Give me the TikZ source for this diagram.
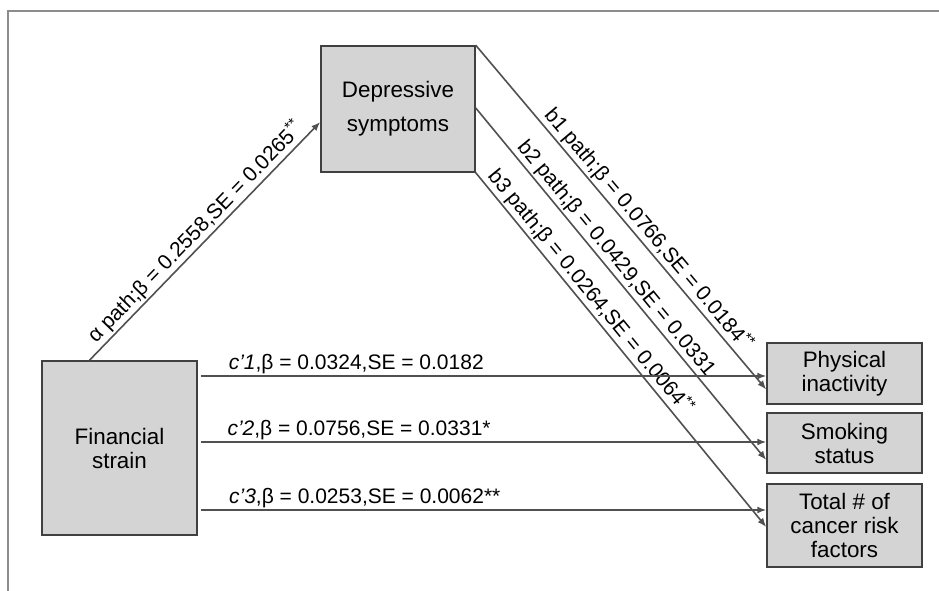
\documentclass[tikz,border=0pt]{standalone}
\usepackage{fontspec}
\setmainfont{Liberation Sans}
\usetikzlibrary{arrows.meta}
\definecolor{boxfill}{HTML}{D4D4D4}
\definecolor{boxline}{HTML}{404040}
\definecolor{linkline}{HTML}{505050}
\definecolor{framegray}{HTML}{8C8C8C}
\tikzset{
    varbox/.style={draw=boxline, line width=1.5pt, fill=boxfill, align=center, inner sep=0pt,
        minimum width=155pt, font=\fontsize{22.4}{24}\selectfont},
    link/.style={draw=linkline, line width=1.6pt, -{Latex[length=9pt,width=7pt]}},
    coef/.style={font=\fontsize{21}{24}\selectfont, inner sep=1.5pt}
}
\begin{document}
\begin{tikzpicture}[x=1pt,y=-1pt]
    \useasboundingbox (0,0) rectangle (939,591);
    \draw[framegray, line width=2pt] (939,11) -- (8,11) -- (8,591);
    % variables
    \node[varbox, minimum width=154pt, minimum height=126pt, font=\fontsize{22.4}{34}\selectfont] (dep) at (398,109) {Depressive\\symptoms};
    \node[varbox, minimum height=174pt] (fin) at (119.5,448) {Financial\\strain};
    \node[varbox, minimum height=61pt] (phys) at (844.5,373.5) {Physical\\inactivity};
    \node[varbox, minimum height=60pt] (smok) at (844.5,443) {Smoking\\status};
    \node[varbox, minimum height=83pt] (total) at (844.5,525.5) {Total \# of\\cancer risk\\factors};
    % a path
    \draw[link] ([xshift=-30pt]fin.north) -- node[coef, midway, sloped, above] {α path;β = 0.2558,SE = 0.0265\textsuperscript{**}} ([yshift=-13pt]dep.west);
    % b paths
    \draw[link] (dep.north east) -- node[coef, pos=0.56, sloped, above] {b1 path;β = 0.0766,SE = 0.0184\textsuperscript{**}} ([yshift=-16pt]phys.west);
    \draw[link] ([yshift=1pt]dep.east) -- node[coef, pos=0.45, sloped, above] {b2 path;β = 0.0429,SE = 0.0331} ([yshift=-17pt]smok.west);
    \draw[link] (dep.south east) -- node[coef, pos=0.36, sloped, above] {b3 path;β = 0.0264,SE = 0.0064\textsuperscript{**}} ([yshift=-1.5pt]total.west);
    % c' paths
    \draw[link] ([xshift=3pt,yshift=72pt]fin.east) -- node[coef, pos=0.275, above] {\textit{c'1},β = 0.0324,SE = 0.0182} ([yshift=-2.5pt]phys.west);
    \draw[link] ([xshift=3pt,yshift=6pt]fin.east) -- node[coef, pos=0.28, above] {\textit{c'2},β = 0.0756,SE = 0.0331*} ([yshift=1pt]smok.west);
    \draw[link] ([xshift=3pt,yshift=-62pt]fin.east) -- node[coef, pos=0.29, above] {\textit{c'3},β = 0.0253,SE = 0.0062**} ([yshift=15.5pt]total.west);
\end{tikzpicture}
\end{document}
